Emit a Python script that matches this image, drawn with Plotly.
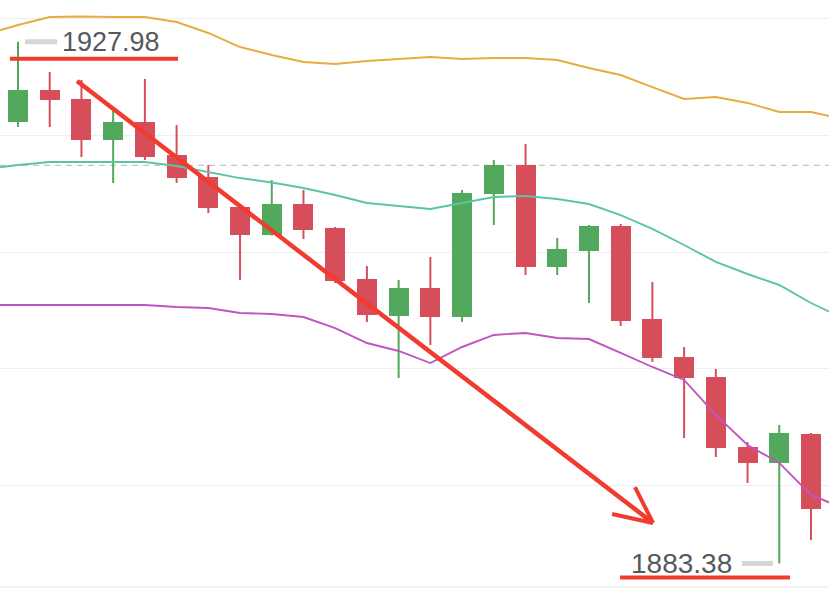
import plotly.graph_objects as go

# ---- data ----
candle_idx = list(range(26))
opens  = [1921.11, 1923.85, 1923.08, 1919.57, 1921.11, 1918.29, 1916.41, 1913.85, 1911.45, 1914.10,
          1912.05, 1907.69, 1904.53, 1906.92, 1904.44, 1914.96, 1917.44, 1908.72, 1910.09, 1912.22,
          1904.27, 1901.03, 1899.32, 1893.33, 1891.97, 1894.44]
highs  = [1927.98, 1925.38, 1924.70, 1922.39, 1924.79, 1920.85, 1917.44, 1914.02, 1916.15, 1915.30,
          1912.14, 1908.80, 1907.61, 1909.57, 1915.30, 1917.86, 1919.23, 1911.20, 1912.31, 1912.39,
          1907.44, 1901.88, 1900.00, 1893.76, 1895.21, 1894.53]
lows   = [1920.68, 1920.68, 1918.12, 1915.90, 1917.86, 1915.90, 1913.33, 1907.61, 1911.40, 1911.11,
          1907.35, 1904.02, 1899.23, 1902.05, 1904.02, 1912.31, 1908.03, 1908.03, 1905.64, 1903.68,
          1900.60, 1894.10, 1892.48, 1890.26, 1883.38, 1885.38]
closes = [1923.85, 1922.99, 1919.57, 1921.11, 1918.12, 1916.32, 1913.76, 1911.45, 1914.10, 1911.88,
          1907.52, 1904.62, 1906.92, 1904.44, 1915.04, 1917.44, 1908.72, 1910.26, 1912.22, 1904.10,
          1900.94, 1899.23, 1893.25, 1891.97, 1894.53, 1888.03]

band_idx = list(range(-1, 27))
upper_band = [1928.60, 1929.40, 1930.09, 1930.13, 1930.09, 1930.09, 1929.66, 1928.72, 1927.52, 1926.84,
              1926.24, 1926.07, 1926.32, 1926.50, 1926.67, 1926.50, 1926.58, 1926.58, 1926.41, 1925.73,
              1925.13, 1924.10, 1923.08, 1923.25, 1922.74, 1921.97, 1921.97, 1921.37]
middle_band = [1917.09, 1917.44, 1917.69, 1917.69, 1917.69, 1917.69, 1917.35, 1916.84, 1916.32, 1915.94,
               1915.47, 1914.87, 1914.19, 1913.93, 1913.68, 1914.19, 1914.70, 1914.79, 1914.53, 1914.10,
               1913.16, 1911.97, 1910.60, 1909.15, 1908.12, 1907.18, 1905.64, 1904.36]
lower_band = [1905.47, 1905.47, 1905.47, 1905.47, 1905.47, 1905.47, 1905.30, 1905.21, 1904.79, 1904.70,
              1904.44, 1903.50, 1902.22, 1901.54, 1900.51, 1901.88, 1902.91, 1903.08, 1902.65, 1902.56,
              1901.37, 1900.17, 1899.06, 1896.07, 1893.50, 1891.97, 1889.23, 1888.12]

ref_price = 1917.4
high_label = "1927.98"
low_label = "1883.38"
high_value = 1927.98
low_value = 1883.38

GREEN = "#52a85c"
RED = "#d64e5a"
ARROW = "#f23b2f"

fig = go.Figure()

# bodies
body_base = [min(o, c) for o, c in zip(opens, closes)]
body_h = [max(abs(c - o), 0.08) for o, c in zip(opens, closes)]
colors = [GREEN if c >= o else RED for o, c in zip(opens, closes)]

# wicks
for col in (GREEN, RED):
    xs, ys = [], []
    for i, o, h, l, c in zip(candle_idx, opens, highs, lows, closes):
        if (GREEN if c >= o else RED) == col:
            xs += [i, i, None]
            ys += [l, h, None]
    fig.add_trace(go.Scatter(x=xs, y=ys, mode="lines", line=dict(color=col, width=2),
                             hoverinfo="skip"))

fig.add_trace(go.Bar(x=candle_idx, y=body_h, base=body_base, width=0.63,
                     marker=dict(color=colors, line=dict(width=0))))

fig.add_trace(go.Scatter(x=band_idx, y=upper_band, mode="lines",
                         line=dict(color="#e6ad3e", width=1.9)))
fig.add_trace(go.Scatter(x=band_idx, y=middle_band, mode="lines",
                         line=dict(color="#5cc4a6", width=1.9)))
fig.add_trace(go.Scatter(x=band_idx, y=lower_band, mode="lines",
                         line=dict(color="#c055c0", width=1.9)))

shapes = []
# dashed reference line
shapes.append(dict(type="line", xref="paper", x0=0, x1=1, yref="y", y0=ref_price, y1=ref_price,
                   line=dict(color="#c4c4c4", width=1.2, dash="6px,5px"), layer="below"))
# bottom line
shapes.append(dict(type="line", xref="paper", x0=0, x1=1, yref="paper", y0=0.017, y1=0.017,
                   line=dict(color="#eeeeee", width=1.2), layer="below"))
# high label decorations
shapes.append(dict(type="line", xref="paper", x0=0.0302, x1=0.0688, yref="y", ysizemode="pixel",
                   yanchor=high_value, y0=0, y1=0, line=dict(color="#d6d6d6", width=5)))
shapes.append(dict(type="line", xref="paper", x0=0.012, x1=0.2147, yref="y", ysizemode="pixel",
                   yanchor=high_value, y0=-17, y1=-17, line=dict(color=ARROW, width=4)))
# low label decorations
shapes.append(dict(type="line", xref="paper", x0=0.895, x1=0.9325, yref="y", ysizemode="pixel",
                   yanchor=low_value, y0=0, y1=0, line=dict(color="#d6d6d6", width=5)))
shapes.append(dict(type="line", xref="paper", x0=0.748, x1=0.953, yref="y", ysizemode="pixel",
                   yanchor=low_value, y0=-14, y1=-14, line=dict(color=ARROW, width=4)))
# arrow
tip = (20.02, 1886.84)
shapes.append(dict(type="line", xref="x", yref="y", x0=1.86, y0=1924.62, x1=tip[0], y1=tip[1],
                   line=dict(color=ARROW, width=4.5)))
shapes.append(dict(type="line", xref="x", yref="y", x0=19.45, y0=1889.91, x1=tip[0], y1=tip[1],
                   line=dict(color=ARROW, width=4)))
shapes.append(dict(type="line", xref="x", yref="y", x0=18.73, y0=1887.61, x1=tip[0], y1=tip[1],
                   line=dict(color=ARROW, width=4)))

annotations = [
    dict(text=high_label, xref="paper", x=0.134, yref="y", y=high_value, showarrow=False,
         font=dict(family="Liberation Sans, Arial, sans-serif", size=27, color="#55595e"),
         xanchor="center", yanchor="middle"),
    dict(text=low_label, xref="paper", x=0.822, yref="y", y=low_value, showarrow=False,
         font=dict(family="Liberation Sans, Arial, sans-serif", size=28, color="#55595e"),
         xanchor="center", yanchor="middle"),
]

fig.update_layout(
    width=829, height=597,
    margin=dict(l=0, r=0, t=0, b=0),
    paper_bgcolor="white", plot_bgcolor="white",
    showlegend=False,
    shapes=shapes, annotations=annotations,
    xaxis=dict(range=[-0.5675, 25.568], visible=False, fixedrange=True),
    yaxis=dict(range=[1880.51, 1931.54], showgrid=True, gridcolor="#efefef", gridwidth=1.2,
               tick0=1930, dtick=10, showticklabels=False, zeroline=False, ticks="",
               fixedrange=True),
    bargap=0,
)

fig.write_html("out.html", config={"displayModeBar": False})
